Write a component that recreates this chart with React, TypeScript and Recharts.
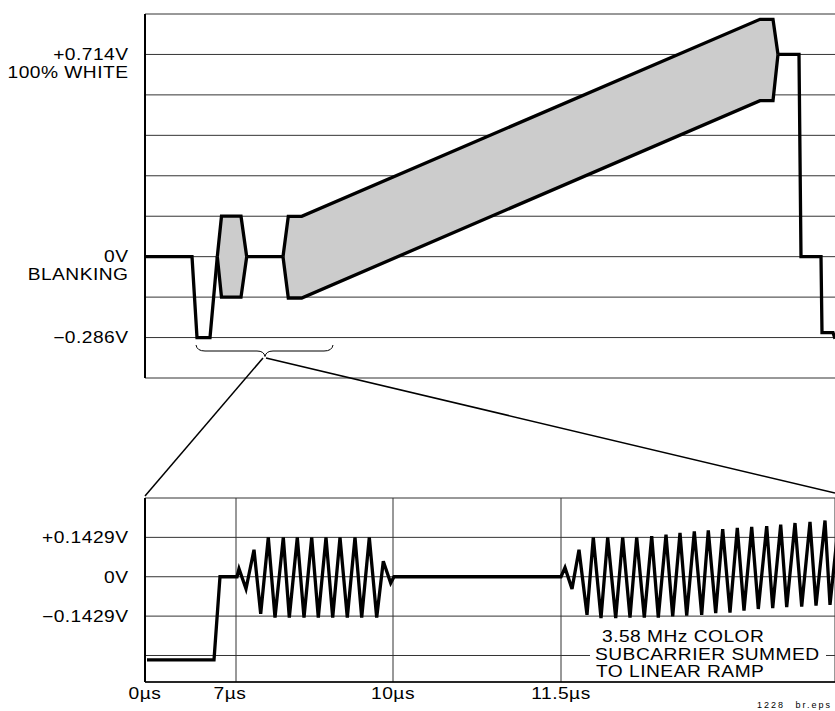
import React from 'react';
import { ComposedChart, Line, Area, XAxis, YAxis, CartesianGrid, ReferenceArea } from 'recharts';

const FONT = '"Liberation Sans", Arial, Helvetica, sans-serif';

// ---- upper trace: one video line (volts) ----
// horizontal axis is the schematic's own position scale (not to time scale)
const lineGridTicks = [-0.4284, -0.2856, -0.1428, 0, 0.1428, 0.2856, 0.4284, 0.5712, 0.714, 0.8568];
const lineTickText = [
  { value: 0.714, lines: ['+0.714V', '100% WHITE'] },
  { value: 0, lines: ['0V', 'BLANKING'] },
  { value: -0.2856, lines: ['\u22120.286V'] },
];
const linePos = [0, 47, 52, 65, 72.3, 76.5, 96, 101.7, 120, 138, 143.3, 156.7, 615, 628, 633, 654, 656, 676, 677, 688, 690];
const lineLevel = [0, 0, -0.2856, -0.2856, 0, null, null, 0, 0, 0, null, null, null, null, 0.714, 0.714, 0, 0, -0.268, -0.268, -0.29];
// envelope of burst and of the ramp with subcarrier
const envLow = [null, null, null, null, 0, -0.1428, -0.1428, 0, null, 0, -0.146, -0.146, 0.551, 0.551, 0.714, null, null, null, null, null, null];
const envHigh = [null, null, null, null, 0, 0.1428, 0.1428, 0, null, 0, 0.1425, 0.1425, 0.838, 0.838, 0.714, null, null, null, null, null, null];

const lineRows = linePos.map((pos, i) => ({
  pos,
  level: lineLevel[i],
  band: [envLow[i], envHigh[i]],
}));

// ---- lower trace: expanded view ----
const zoomGridTicks = [-0.2858, -0.1429, 0, 0.1429, 0.2858];
const zoomTickText = [
  { value: 0.1429, text: '+0.1429V' },
  { value: 0, text: '0V' },
  { value: -0.1429, text: '\u22120.1429V' },
];
const timeTicks = [0, 91, 248, 416];
const timeLabels = ['0\u00b5s', '7\u00b5s', '10\u00b5s', '11.5\u00b5s'];
const noteLines = ['3.58 MHz COLOR', 'SUBCARRIER SUMMED', 'TO LINEAR RAMP'];

const zoomPos = [
  2, 69, 75, 92, 94, 101, 109, 115.7,
  123.3, 130, 138.3, 144.3, 152.3, 159, 166.7, 173.3, 181, 187.7, 195, 202.3, 210, 216.7, 224.3, 231.7,
  238.3, 245.7, 249, 416, 420, 427, 434, 442,
  448.3, 456, 462.7, 470.7, 477.7, 485, 491.7, 499.3, 506.7, 513.3, 521, 527.7, 535, 541.7,
  549.3, 556.7, 563.3, 570.7, 577.7, 585, 592.3, 599, 606.7, 613.3, 621.7, 627.7, 635.7, 641.7,
  650, 656.7, 665, 671, 680, 685, 694,
];
const zoomLevel = [
  -0.302, -0.302, 0, 0, 0.029, -0.044, 0.098, -0.135,
  0.143, -0.148, 0.143, -0.148, 0.143, -0.148, 0.143, -0.148, 0.143, -0.148, 0.143, -0.148, 0.143, -0.148, 0.143, -0.148,
  0.056, -0.023, 0, 0, 0.033, -0.044, 0.098, -0.138,
  0.143, -0.15, 0.143, -0.15, 0.143, -0.148, 0.143, -0.148, 0.147, -0.148, 0.153, -0.144, 0.159, -0.141,
  0.165, -0.138, 0.168, -0.132, 0.173, -0.13, 0.177, -0.123, 0.181, -0.117, 0.184, -0.114, 0.189, -0.11,
  0.195, -0.108, 0.199, -0.105, 0.204, -0.102, 0.211,
];
const zoomRows = zoomPos.map((pos, i) => ({ pos, level: zoomLevel[i] }));

const PLOT_LEFT = 145;
const PLOT_RIGHT = 835;
const X_SPAN = 690;
const px = (pos: number) => PLOT_LEFT + (pos / X_SPAN) * (PLOT_RIGHT - PLOT_LEFT);

// the original lettering is a horizontally stretched Helvetica
const LABEL_SIZE = 16;
const STRETCH = 1.2;
const LABEL_SPACING = 0.4;

const Wide = ({ x, y, anchor = 'start', children }: any) => (
  <g transform={`translate(${x},${y}) scale(${STRETCH},1)`}>
    <text x={0} y={0} textAnchor={anchor} fontFamily={FONT} fontSize={LABEL_SIZE} letterSpacing={LABEL_SPACING} fill="#000">
      {children}
    </text>
  </g>
);

const LineTick = (props: any) => {
  const { x, y, payload } = props;
  const t = lineTickText.find((d) => Math.abs(d.value - payload.value) < 0.001);
  if (!t) return <g />;
  return (
    <Wide x={x} y={y} anchor="end">
      {t.lines.map((s, i) => (
        <tspan key={i} x={0} dy={i === 0 ? 5.8 : 18}>{s}</tspan>
      ))}
    </Wide>
  );
};

const ZoomTick = (props: any) => {
  const { x, y, payload } = props;
  const t = zoomTickText.find((d) => Math.abs(d.value - payload.value) < 0.001);
  if (!t) return <g />;
  return (
    <Wide x={x} y={y + 5.8} anchor="end">
      {t.text}
    </Wide>
  );
};

const TimeTick = (props: any) => {
  const { x, y, index } = props;
  // the 7µs label sits a little left of its grid line in the original
  const shift = index === 1 ? -6 : 0;
  return (
    <Wide x={x + shift} y={y + 16.5} anchor="middle">
      {timeLabels[index]}
    </Wide>
  );
};

const NoteLabel = (props: any) => {
  const { x, y } = props.viewBox;
  return (
    <g>
      <Wide x={x + 12} y={y + 19.7}>{noteLines[0]}</Wide>
      <Wide x={x + 5} y={y + 38}>{noteLines[1]}</Wide>
      <Wide x={x + 6} y={y + 55}>{noteLines[2]}</Wide>
    </g>
  );
};

export default function App() {
  const braceL = px(51);
  const braceR = px(188);
  const braceM = px(120);
  return (
    <div style={{ position: 'absolute', left: 0, top: 0, width: 835, height: 711, background: '#fff', overflow: 'hidden' }}>
      <div style={{ position: 'absolute', left: 0, top: 0 }}>
        <ComposedChart width={835} height={392} data={lineRows} margin={{ top: 14, right: 0, bottom: 14, left: 0 }}>
          <CartesianGrid vertical={false} stroke="#333" strokeWidth={1} />
          <XAxis dataKey="pos" type="number" domain={[0, X_SPAN]} hide />
          <YAxis
            type="number"
            domain={[-0.4284, 0.8568]}
            ticks={lineGridTicks}
            width={145}
            tickLine={false}
            tickSize={0}
            tickMargin={16.5}
            axisLine={{ stroke: '#000', strokeWidth: 2 }}
            tick={<LineTick />}
            interval={0}
          />
          <Area
            type="linear"
            dataKey="band"
            stroke="#000"
            strokeWidth={3.3}
            fill="#cccccc"
            fillOpacity={1}
            connectNulls={false}
            dot={false}
            activeDot={false}
            isAnimationActive={false}
          />
          <Line
            type="linear"
            dataKey="level"
            stroke="#000"
            strokeWidth={3.3}
            connectNulls={false}
            dot={false}
            activeDot={false}
            isAnimationActive={false}
          />
        </ComposedChart>
      </div>

      <div style={{ position: 'absolute', left: 0, top: 480 }}>
        <ComposedChart width={835} height={231} data={zoomRows} margin={{ top: 18, right: 0, bottom: 0, left: 0 }}>
          <CartesianGrid stroke="#333" strokeWidth={1} />
          <XAxis
            dataKey="pos"
            type="number"
            domain={[0, X_SPAN]}
            allowDataOverflow
            ticks={timeTicks}
            height={29}
            tickLine={false}
            tickSize={0}
            tickMargin={0}
            axisLine={{ stroke: '#000', strokeWidth: 1.5 }}
            tick={<TimeTick />}
            interval={0}
          />
          <YAxis
            type="number"
            domain={[-0.382, 0.2858]}
            ticks={zoomGridTicks}
            width={145}
            tickLine={false}
            tickSize={0}
            tickMargin={16.5}
            axisLine={{ stroke: '#000', strokeWidth: 2 }}
            tick={<ZoomTick />}
            interval={0}
          />
          <ReferenceArea
            x1={445}
            x2={681}
            y1={-0.374}
            y2={-0.164}
            fill="#fff"
            fillOpacity={1}
            stroke="none"
            label={<NoteLabel />}
          />
          <Line
            type="linear"
            dataKey="level"
            stroke="#000"
            strokeWidth={3.3}
            dot={false}
            activeDot={false}
            isAnimationActive={false}
          />
        </ComposedChart>
      </div>

      <svg width={835} height={711} style={{ position: 'absolute', left: 0, top: 0, pointerEvents: 'none' }}>
        <path
          d={`M${braceL},345 Q${braceL + 1},351 ${braceL + 9},351 L${braceM - 8},351 Q${braceM - 1},351 ${braceM},356.5 Q${braceM + 1},351 ${braceM + 8},351 L${braceR - 9},351 Q${braceR - 1},351 ${braceR},345`}
          fill="none"
          stroke="#000"
          strokeWidth={1}
        />
        <line x1={braceM - 2} y1={358} x2={PLOT_LEFT} y2={496} stroke="#000" strokeWidth={1.5} />
        <line x1={braceM + 1} y1={358} x2={PLOT_RIGHT} y2={493} stroke="#000" strokeWidth={1.5} />
        <text x={757} y={708} fontFamily={FONT} fontSize={9} letterSpacing={2} wordSpacing={6} fill="#000">
          1228 br.eps
        </text>
      </svg>
    </div>
  );
}
